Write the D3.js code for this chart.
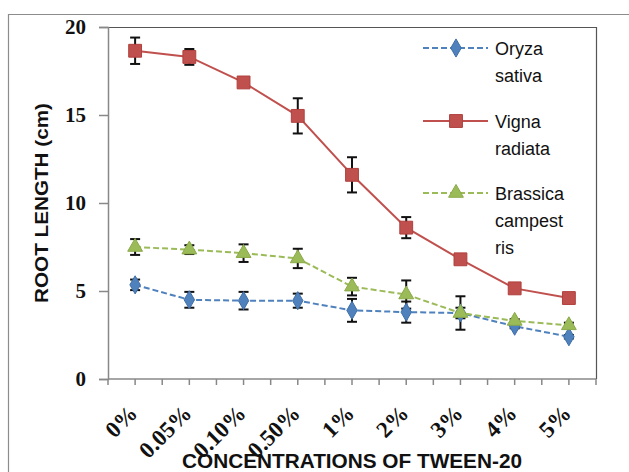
<!DOCTYPE html>
<html><head><meta charset="utf-8">
<script src="https://cdn.jsdelivr.net/npm/d3@7/dist/d3.min.js"></script>
<style>html,body{margin:0;padding:0;background:#fff;}svg{display:block;}</style>
</head><body>
<svg id="c" width="629" height="472"></svg>
<script>
const categories = ["0%","0.05%","0.10%","0.50%","1%","2%","3%","4%","5%"];
const oryza      = [5.35, 4.5, 4.45, 4.45, 3.9, 3.8, 3.75, 3.0, 2.4];
const oryzaErr   = [0.3, 0.45, 0.5, 0.4, 0.65, 0.6, 0.3, 0.12, 0.1];
const vigna      = [18.65, 18.3, 16.85, 14.95, 11.6, 8.6, 6.8, 5.15, 4.6];
const vignaErr   = [0.75, 0.45, 0.1, 1.0, 1.0, 0.6, 0.1, 0.1, 0.1];
const brassica   = [7.5, 7.35, 7.15, 6.85, 5.25, 4.8, 3.75, 3.3, 3.05];
const brassicaErr= [0.45, 0.25, 0.5, 0.55, 0.5, 0.8, 0.95, 0.1, 0.15];
const yTicks = [0, 5, 10, 15, 20];
const seriesNames = [["Oryza","sativa"],["Vigna","radiata"],["Brassica","campest","ris"]];

const svg = d3.select("#c");
const L = 108, R = 596, T = 27, B = 379;
const x = d3.scaleBand().domain(categories).range([L, R]).padding(0);
const y = d3.scaleLinear().domain([0, 20]).range([B, T]);
const cx = c => x(c) + x.bandwidth() / 2;

// outer frame
svg.append("path").attr("d", `M8.5,472 V14.5 H629`).attr("fill","none").attr("stroke","#8c8c8c").attr("stroke-width",1.2);
// plot border top/right
svg.append("path").attr("d", `M${L},${T+0.5} H${R+0.5} V${B}`).attr("fill","none").attr("stroke","#555").attr("stroke-width",1.2);

// y axis
const yAxis = svg.append("g").attr("transform", `translate(${L},0)`)
  .call(d3.axisLeft(y).tickValues(yTicks).tickSize(9).tickPadding(13).tickFormat(d3.format("d")));
yAxis.select(".domain").attr("stroke","#888").attr("stroke-width",1.5);
yAxis.selectAll(".tick line").attr("stroke","#888").attr("stroke-width",1.5);
yAxis.selectAll("text").attr("font-family","'Liberation Serif', serif").attr("font-weight","bold")
  .attr("font-size",21).attr("fill","#111");

// x axis with ticks at boundaries and centres
const halfTicks = d3.range(0, categories.length * 2 + 1).map(i => L + i * x.bandwidth() / 2);
const xa = svg.append("g");
xa.append("line").attr("x1", L).attr("x2", R).attr("y1", B).attr("y2", B).attr("stroke","#888").attr("stroke-width",1.5);
xa.selectAll("line.t").data(halfTicks).join("line").attr("class","t")
  .attr("x1", d => d).attr("x2", d => d).attr("y1", B).attr("y2", B + 6).attr("stroke","#888").attr("stroke-width",1.5);
xa.selectAll("text").data(categories).join("text")
  .attr("transform", d => `translate(${cx(d) - 2},${B + 30}) rotate(-45)`)
  .attr("text-anchor","end").attr("dy","0.35em")
  .attr("font-family","'Liberation Serif', serif").attr("font-weight","bold").attr("font-size",23).attr("fill","#111")
  .text(d => d);

// axis titles
svg.append("text").attr("x", (L + R) / 2).attr("y", 468).attr("text-anchor","middle")
  .attr("font-family","'Liberation Sans', sans-serif").attr("font-weight","bold").attr("font-size",21)
  .attr("textLength", 340).attr("lengthAdjust","spacingAndGlyphs").attr("fill","#111")
  .text("CONCENTRATIONS OF TWEEN-20");
svg.append("text").attr("transform", `translate(48,${(T + B) / 2}) rotate(-90)`).attr("text-anchor","middle")
  .attr("font-family","'Liberation Sans', sans-serif").attr("font-weight","bold").attr("font-size",18)
  .attr("textLength", 200).attr("lengthAdjust","spacingAndGlyphs").attr("fill","#111")
  .text("ROOT LENGTH (cm)");

const series = [
  {vals: oryza, err: oryzaErr, color: "#4F81BD", stroke: "#3F6FA8", dash: "6,3", sym: d3.symbolDiamond, size: 95},
  {vals: vigna, err: vignaErr, color: "#C0504D", stroke: "#B0403D", dash: null, sym: d3.symbolSquare, size: 165},
  {vals: brassica, err: brassicaErr, color: "#9BBB59", stroke: "#8AAA48", dash: "6,3", sym: d3.symbolTriangle, size: 95}
];

const line = d3.line().x((d, i) => cx(categories[i])).y(d => y(d));
series.forEach(s => {
  svg.append("path").datum(s.vals).attr("d", line).attr("fill","none")
    .attr("stroke", s.color).attr("stroke-width", 2).attr("stroke-dasharray", s.dash);
});
// error bars
series.forEach(s => {
  const g = svg.append("g").attr("stroke","#111").attr("stroke-width",2);
  s.vals.forEach((v, i) => {
    const px = cx(categories[i]);
    const y1 = y(v + s.err[i]), y2 = y(v - s.err[i]);
    g.append("line").attr("x1", px).attr("x2", px).attr("y1", y1).attr("y2", y2);
    g.append("line").attr("x1", px - 5).attr("x2", px + 5).attr("y1", y1).attr("y2", y1);
    g.append("line").attr("x1", px - 5).attr("x2", px + 5).attr("y1", y2).attr("y2", y2);
  });
});
// markers
series.forEach(s => {
  svg.append("g").selectAll("path").data(s.vals).join("path")
    .attr("transform", (d, i) => `translate(${cx(categories[i])},${y(d)})`)
    .attr("d", d3.symbol().type(s.sym).size(s.size))
    .attr("fill", s.color).attr("stroke", s.stroke).attr("stroke-width", 1);
});

// legend
const legY = [48, 121, 193];
series.forEach((s, k) => {
  const g = svg.append("g");
  g.append("line").attr("x1", 423).attr("x2", 488).attr("y1", legY[k]).attr("y2", legY[k])
    .attr("stroke", s.color).attr("stroke-width", 2).attr("stroke-dasharray", s.dash);
  g.append("path").attr("transform", `translate(456,${legY[k]})`)
    .attr("d", d3.symbol().type(s.sym).size(s.size)).attr("fill", s.color).attr("stroke", s.stroke);
  seriesNames[k].forEach((t, j) => {
    g.append("text").attr("x", 495).attr("y", legY[k] + 7 + j * 27)
      .attr("font-family","'Liberation Sans', sans-serif").attr("font-size",18).attr("fill","#111").text(t);
  });
});
</script>
</body></html>
